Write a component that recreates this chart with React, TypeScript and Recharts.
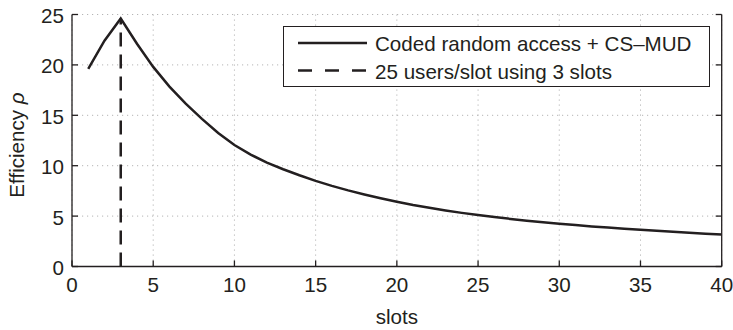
import React from 'react';
import { LineChart, Line, XAxis, YAxis, CartesianGrid, Label } from 'recharts';

const slots = [
  1, 2, 3, 4, 5, 6, 7, 8, 9, 10,
  11, 12, 13, 14, 15, 16, 17, 18, 19, 20,
  21, 22, 23, 24, 25, 26, 27, 28, 29, 30,
  31, 32, 33, 34, 35, 36, 37, 38, 39, 40,
];
const efficiency = [
  19.6, 22.4, 24.6, 22.1, 19.8, 17.85, 16.15, 14.65, 13.25, 12.05,
  11.1, 10.3, 9.65, 9.05, 8.5, 8.0, 7.55, 7.15, 6.77, 6.42,
  6.1, 5.82, 5.56, 5.32, 5.1, 4.9, 4.72, 4.55, 4.4, 4.25,
  4.11, 3.98, 3.86, 3.75, 3.64, 3.54, 3.44, 3.35, 3.26, 3.18,
];
const refSlots = [3, 3];
const refValues = [0, 24.6];
const xTicks = [0, 5, 10, 15, 20, 25, 30, 35, 40];
const yTicks = [0, 5, 10, 15, 20, 25];
const seriesNames = ['Coded random access + CS\u2013MUD', '25 users/slot using 3 slots'];
const xLabel = 'slots';
const yLabel = 'Efficiency ';
const yLabelSymbol = '\u03c1';

const data = slots.map((s, i) => ({ slot: s, eff: efficiency[i] }));
const refData = refSlots.map((s, i) => ({ slot: s, ref: refValues[i] }));

const INK = '#231f20';
const FONT = '"Liberation Sans", Arial, Helvetica, sans-serif';
const FS = 20.6;
const TICK = 6;

const BottomTick = (props: any) => {
  const { x, y, payload } = props;
  return (
    <g>
      <line x1={x} x2={x} y1={y} y2={y - TICK} stroke={INK} strokeWidth={1.3} />
      <text x={x} y={y + 17.5} textAnchor="middle" dominantBaseline="central" fill={INK} fontSize={FS} fontFamily={FONT}>
        {payload.value}
      </text>
    </g>
  );
};

const LeftTick = (props: any) => {
  const { x, y, payload } = props;
  return (
    <g>
      <line x1={x} x2={x + TICK} y1={y} y2={y} stroke={INK} strokeWidth={1.3} />
      <text x={x - 8} y={y + 1} textAnchor="end" dominantBaseline="central" fill={INK} fontSize={FS} fontFamily={FONT}>
        {payload.value}
      </text>
    </g>
  );
};

const TopTick = (props: any) => {
  const { x, y } = props;
  return <line x1={x} x2={x} y1={y} y2={y + TICK} stroke={INK} strokeWidth={1.3} />;
};

const RightTick = (props: any) => {
  const { x, y } = props;
  return <line x1={x} x2={x - TICK} y1={y} y2={y} stroke={INK} strokeWidth={1.3} />;
};

const YLabelContent = (props: any) => {
  const vb = props.viewBox || {};
  const cy = (vb.y ?? 14.5) + (vb.height ?? 252) / 2 + 4.5;
  const cx = 24;
  return (
    <text
      x={cx}
      y={cy}
      transform={`rotate(-90 ${cx} ${cy})`}
      textAnchor="middle"
      fill={INK}
      fontSize={FS}
      fontFamily={FONT}
    >
      {yLabel}
      <tspan fontStyle="italic">{yLabelSymbol}</tspan>
    </text>
  );
};

const LegendBox = () => (
  <div
    style={{
      position: 'absolute',
      left: 283,
      top: 26,
      width: 427,
      height: 61,
      boxSizing: 'border-box',
      border: `1.3px solid ${INK}`,
      background: '#fff',
    }}
  >
    <svg width={425} height={59} style={{ display: 'block' }}>
      <line x1={14} x2={83} y1={16} y2={16} stroke={INK} strokeWidth={2.5} />
      <text x={91} y={16.5} dominantBaseline="central" fill={INK} fontSize={FS} fontFamily={FONT}>
        {seriesNames[0]}
      </text>
      <line x1={14} x2={83} y1={43.5} y2={43.5} stroke={INK} strokeWidth={2.5} strokeDasharray="14 13" />
      <text x={91} y={44} dominantBaseline="central" fill={INK} fontSize={FS} fontFamily={FONT}>
        {seriesNames[1]}
      </text>
    </svg>
  </div>
);

export default function App() {
  return (
    <div style={{ position: 'absolute', left: 0, top: 0, width: 733, height: 330, background: '#fff' }}>
      <LineChart
        width={733}
        height={330}
        data={data}
        margin={{ top: 14.5, right: 0, left: 0, bottom: 0 }}
        style={{ fontFamily: FONT }}
      >
        <CartesianGrid stroke="#b5b5b5" strokeDasharray="1.2 3.8" strokeWidth={1} />
        <XAxis
          dataKey="slot"
          type="number"
          domain={[0, 40]}
          ticks={xTicks}
          interval={0}
          height={63.5}
          tickSize={0}
          tickMargin={0}
          tickLine={false}
          axisLine={{ stroke: INK, strokeWidth: 1.3 }}
          tick={<BottomTick />}
          allowDataOverflow
        >
          <Label
            value={xLabel}
            position="insideBottom"
            offset={6}
            fill={INK}
            fontSize={FS}
            fontFamily={FONT}
          />
        </XAxis>
        <XAxis
          xAxisId="top"
          orientation="top"
          type="number"
          domain={[0, 40]}
          ticks={xTicks}
          interval={0}
          height={0}
          tickSize={0}
          tickMargin={0}
          tickLine={false}
          axisLine={{ stroke: INK, strokeWidth: 1.3 }}
          tick={<TopTick />}
          allowDataOverflow
        />
        <YAxis
          type="number"
          domain={[0, 25]}
          ticks={yTicks}
          interval={0}
          width={72}
          tickSize={0}
          tickMargin={0}
          tickLine={false}
          axisLine={{ stroke: INK, strokeWidth: 1.3 }}
          tick={<LeftTick />}
          allowDataOverflow
        >
          <Label content={<YLabelContent />} />
        </YAxis>
        <YAxis
          yAxisId="right"
          orientation="right"
          type="number"
          domain={[0, 25]}
          ticks={yTicks}
          interval={0}
          width={11.3}
          tickSize={0}
          tickMargin={0}
          tickLine={false}
          axisLine={{ stroke: INK, strokeWidth: 1.3 }}
          tick={<RightTick />}
          allowDataOverflow
        />
        <Line
          type="linear"
          dataKey="eff"
          stroke={INK}
          strokeWidth={2.5}
          dot={false}
          activeDot={false}
          isAnimationActive={false}
        />
        <Line
          type="linear"
          data={refData}
          dataKey="ref"
          stroke={INK}
          strokeWidth={2.5}
          strokeDasharray="14 8"
          dot={false}
          activeDot={false}
          isAnimationActive={false}
        />
      </LineChart>
      <LegendBox />
    </div>
  );
}
